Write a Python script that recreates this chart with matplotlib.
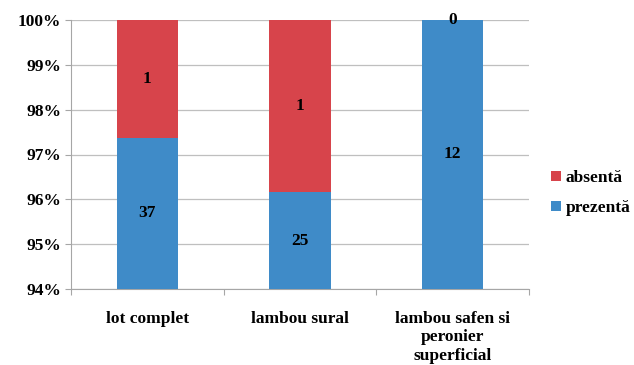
import matplotlib.pyplot as plt
from matplotlib.ticker import FuncFormatter

categories = ["lot complet", "lambou sural", "lambou safen si\nperonier\nsuperficial"]
prezenta = [37, 25, 12]
absenta = [1, 1, 0]

plt.rcParams['font.family'] = ['Liberation Serif', 'DejaVu Serif']
plt.rcParams['font.weight'] = 'bold'
fs = 12.5

fig = plt.figure(figsize=(6.34, 3.65), dpi=100)
ax = fig.add_axes([71 / 634, 1 - 289 / 365, 458 / 634, 269 / 365])

totals = [p + a for p, a in zip(prezenta, absenta)]
pct_p = [p / t * 100 for p, t in zip(prezenta, totals)]
pct_a = [a / t * 100 for a, t in zip(absenta, totals)]
x = list(range(len(categories)))

blue = "#3F8BC8"
red = "#D7444B"
ax.bar(x, pct_p, width=0.4, color=blue, label="prezentă", zorder=3)
ax.bar(x, pct_a, width=0.4, bottom=pct_p, color=red, label="absentă", zorder=3)

ax.set_ylim(94, 100)
ax.set_xlim(-0.5, 2.5)
ax.set_yticks(range(94, 101))
ax.yaxis.set_major_formatter(FuncFormatter(lambda v, _: f"{v:.0f}%"))
ax.grid(axis='y', color="#BFBFBF", linewidth=0.9, zorder=0)

# etichete cu valorile absolute
for i in x:
    y_p = 94 + (pct_p[i] - 94) / 2 if pct_p[i] < 100 else 97
    ax.text(i, y_p, str(prezenta[i]), ha='center', va='center', fontsize=fs, fontweight='bold', zorder=4)
    y_a = pct_p[i] + pct_a[i] / 2
    ax.text(i, y_a, str(absenta[i]), ha='center', va='center', fontsize=fs, fontweight='bold', zorder=4)

for s in ['top', 'right']:
    ax.spines[s].set_visible(False)
for s in ['left', 'bottom']:
    ax.spines[s].set_color("#A6A6A6")
ax.tick_params(axis='y', colors="#A6A6A6", length=4, labelcolor='black', labelsize=fs, pad=3)
ax.set_xticks([-0.5, 0.5, 1.5, 2.5], minor=False)
ax.set_xticklabels([])
ax.set_xticks(x, minor=True)
ax.set_xticklabels(categories, minor=True, fontsize=fs, fontweight='bold', linespacing=1.18)
ax.tick_params(axis='x', which='major', colors="#A6A6A6", length=4)
ax.tick_params(axis='x', which='minor', length=0, pad=16)

handles, labels = ax.get_legend_handles_labels()
fig.legend(handles[::-1], labels[::-1], loc='center left', bbox_to_anchor=(551 / 634, 1 - 193 / 365),
           frameon=False, handlelength=0.55, handleheight=0.55, handletextpad=0.3,
           labelspacing=0.8, borderpad=0, borderaxespad=0,
           prop={'weight': 'bold', 'size': fs})

fig.savefig("out.png", dpi=100)
